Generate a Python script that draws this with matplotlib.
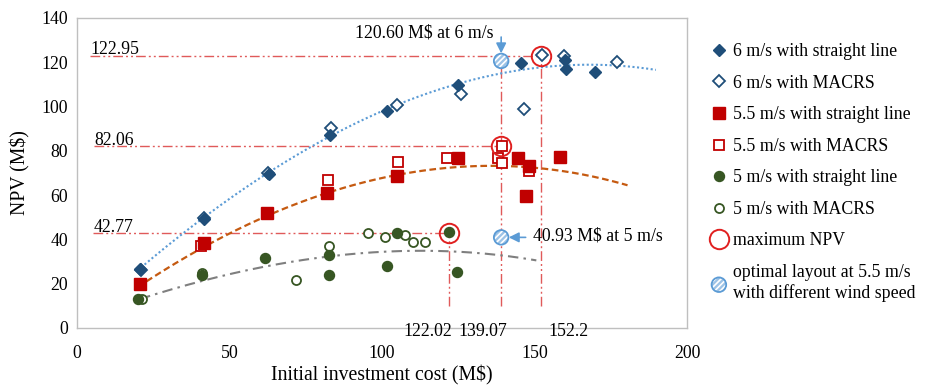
import matplotlib
matplotlib.use("Agg")
import matplotlib.pyplot as plt
import numpy as np
from matplotlib.legend_handler import HandlerTuple

plt.rcParams["font.family"] = ["Liberation Serif", "DejaVu Serif"]
plt.rcParams["hatch.linewidth"] = 1.2

# ---- NPV vs initial investment cost (M$) ----
x6_sl = [20.7, 41.8, 62.8, 82.9, 101.5, 124.9, 145.5, 160.0, 160.3, 169.8]
y6_sl = [26.5, 49.1, 69.4, 87.2, 98.0, 109.8, 119.8, 121.0, 116.8, 115.8]
x6_mac = [21.0, 41.6, 62.5, 83.4, 104.8, 126.0, 146.4, 152.6, 159.7, 177.0]
y6_mac = [26.0, 49.5, 70.0, 90.2, 100.7, 105.5, 98.8, 123.3, 122.8, 120.0]

x55_sl = [20.5, 41.5, 62.3, 82.0, 104.8, 125.0, 144.7, 148.2, 147.1, 158.3]
y55_sl = [19.7, 38.5, 52.1, 60.8, 68.7, 76.6, 76.6, 73.2, 59.6, 77.4]
x55_mac = [40.6, 82.3, 105.2, 121.4, 138.0, 139.2, 139.5, 148.2]
y55_mac = [37.0, 66.8, 75.1, 76.6, 76.6, 82.2, 74.7, 70.9]

x5_sl = [20.1, 41.0, 61.7, 82.5, 82.5, 101.5, 104.8, 121.9, 124.5]
y5_sl = [13.0, 23.8, 31.8, 32.8, 23.8, 28.0, 42.8, 43.2, 25.2]
x5_mac = [21.2, 40.9, 71.8, 82.5, 95.3, 100.9, 107.5, 110.2, 114.1]
y5_mac = [13.0, 24.7, 21.7, 37.0, 42.8, 41.3, 42.0, 39.0, 39.0]

# trend curves (sampled along each fitted curve)
trend6_x = [21.0, 41.7, 62.7, 83.1, 96.2, 104.8, 124.9, 136.6, 155.3, 175.0, 189.8]
trend6_y = [28.0, 48.8, 69.6, 88.0, 96.2, 100.7, 109.8, 113.8, 118.0, 119.1, 116.5]
trend55_x = [20.0, 41.4, 62.0, 73.0, 83.0, 106.0, 122.5, 135.6, 155.3, 180.5]
trend55_y = [18.7, 36.0, 51.0, 57.0, 60.1, 70.6, 72.4, 72.9, 71.4, 64.6]
trend5_x = [20.7, 39.3, 50.2, 61.2, 72.1, 83.1, 96.2, 122.5, 136.2, 150.6]
trend5_y = [13.2, 20.5, 24.3, 27.7, 30.3, 32.2, 34.5, 34.5, 33.0, 30.7]

# maximum NPV for each wind speed
max_cost = [152.2, 139.07, 122.02]
max_npv = [122.95, 82.06, 42.77]
max_cost_labels = ["122.02", "139.07", "152.2"]
max_npv_labels = ["122.95", "82.06", "42.77"]

# optimal 5.5 m/s layout evaluated at other wind speeds
opt_cost = [139.07, 139.07]
opt_npv = [120.60, 40.93]

C6, C55, C5 = "#1F4E79", "#C00000", "#375623"
REF = "#E05A5A"
MAXC = "#E02020"
ARROW = "#5B9BD5"
FS = 12.8

fig = plt.figure(figsize=(9.30, 3.92), dpi=100)
ax = fig.add_axes([77 / 930, 1 - 328 / 392, 610 / 930, 310 / 392])

ref_ls = (0, (7, 2.2, 1.4, 2.2, 1.4, 2.2))
x_start = [4.3, 5.6, 5.4]
for xs, xm, ym in zip(x_start, max_cost, max_npv):
    ax.hlines(ym, xs, xm, colors=REF, linestyles=ref_ls, lw=1.0, zorder=1)
vtops = [max_npv[0], opt_npv[0], max_npv[2]]
for xm, top in zip(max_cost, vtops):
    ax.vlines(xm, 10, top, colors=REF, linestyles=ref_ls, lw=1.0, zorder=1)

for xs, ym, lab in zip(x_start, max_npv, max_npv_labels):
    ax.text(xs, ym + 0.6, lab, fontsize=FS, ha="left", va="baseline", zorder=5)
for xl, lab in zip([115.1, 133.0, 161.2], max_cost_labels):
    ax.text(xl, -1.8, lab, fontsize=FS, ha="center", va="center", clip_on=False)


def trend(xs, ys, deg=3):
    c = np.polyfit(xs, ys, deg)
    xx = np.linspace(xs[0], xs[-1], 200)
    return xx, np.polyval(c, xx)


tx, ty = trend(trend6_x, trend6_y)
ax.plot(tx, ty, color="#5B9BD5", lw=1.5, ls=(0, (1, 1.2)), zorder=2)
tx, ty = trend(trend55_x, trend55_y)
ax.plot(tx, ty, color="#C55A11", lw=1.6, ls=(0, (3, 1.6)), zorder=2)
tx, ty = trend(trend5_x, trend5_y)
ax.plot(tx, ty, color="#7F7F7F", lw=1.5, ls=(0, (5, 2.5, 1.2, 2.5)), zorder=2)

h6s, = ax.plot(x6_mac, y6_mac, ls="none", marker="D", ms=6, mfc="white",
               mec=C6, mew=1.3, zorder=3)
h6f, = ax.plot(x6_sl, y6_sl, ls="none", marker="D", ms=6, mfc=C6, mec=C6,
               zorder=3)
h55m, = ax.plot(x55_mac, y55_mac, ls="none", marker="s", ms=7, mfc="white",
                mec=C55, mew=1.3, zorder=3)
h55s, = ax.plot(x55_sl, y55_sl, ls="none", marker="s", ms=8, mfc=C55, mec=C55,
                zorder=3)
h5m, = ax.plot(x5_mac, y5_mac, ls="none", marker="o", ms=6.5, mfc="white",
               mec=C5, mew=1.3, zorder=3)
h5s, = ax.plot(x5_sl, y5_sl, ls="none", marker="o", ms=7.2, mfc=C5, mec=C5,
               zorder=3)

hmax, = ax.plot(max_cost, max_npv, ls="none", marker="o", ms=14, mfc="none",
                mec=MAXC, mew=1.4, zorder=4)

hopt_fill = ax.scatter(opt_cost, opt_npv, s=110, facecolor="#9DC3E6",
                       edgecolor="white", hatch="//////", lw=0, zorder=4)
hopt_edge = ax.scatter(opt_cost, opt_npv, s=110, facecolor="none",
                       edgecolor=ARROW, lw=1.3, zorder=4)

ax.text(136.6, 133.2, "120.60 M$ at 6 m/s", fontsize=FS, ha="right",
        va="center")
ax.annotate("", xy=(opt_cost[0], opt_npv[0]), xytext=(opt_cost[0], 131.4),
            arrowprops=dict(arrowstyle="-|>,head_width=0.3,head_length=0.6",
                            color=ARROW, lw=1.2, shrinkA=0, shrinkB=5.5))
ax.text(149.4, opt_npv[1] + 0.4, "40.93 M$ at 5 m/s", fontsize=FS, ha="left",
        va="center")
ax.annotate("", xy=(opt_cost[1], opt_npv[1]), xytext=(147.1, opt_npv[1]),
            arrowprops=dict(arrowstyle="-|>,head_width=0.3,head_length=0.6",
                            color=ARROW, lw=1.2, shrinkA=0, shrinkB=5.5))

ax.set_xlim(0, 200)
ax.set_ylim(0, 140)
ax.set_xticks([0, 50, 100, 150, 200])
ax.set_yticks(range(0, 141, 20))
ax.tick_params(axis="both", length=0, labelsize=FS)
ax.tick_params(axis="x", pad=12)
ax.tick_params(axis="y", pad=6.5)
for sp in ax.spines.values():
    sp.set_color("#BFBFBF")
    sp.set_linewidth(1.0)
ax.set_xlabel("Initial investment cost (M$)", fontsize=14.2, labelpad=3)
ax.set_ylabel("NPV (M$)", fontsize=14.2, labelpad=8)

handles = [h6f, h6s, h55s, h55m, h5s, h5m, hmax, (hopt_fill, hopt_edge)]
labels = ["6 m/s with straight line", "6 m/s with MACRS",
          "5.5 m/s with straight line", "5.5 m/s with MACRS",
          "5 m/s with straight line", "5 m/s with MACRS",
          "maximum NPV", "optimal layout at 5.5 m/s\nwith different wind speed"]
fig.legend(handles, labels, loc="upper left",
           bbox_to_anchor=(710 / 930, 1 - 43 / 392),
           bbox_transform=fig.transFigure, frameon=False, fontsize=FS,
           handlelength=1.0, handletextpad=0.3, borderpad=0, borderaxespad=0,
           labelspacing=0.82, markerscale=1.0,
           handler_map={tuple: HandlerTuple(ndivide=1)})

fig.savefig("out.png", dpi=100)
